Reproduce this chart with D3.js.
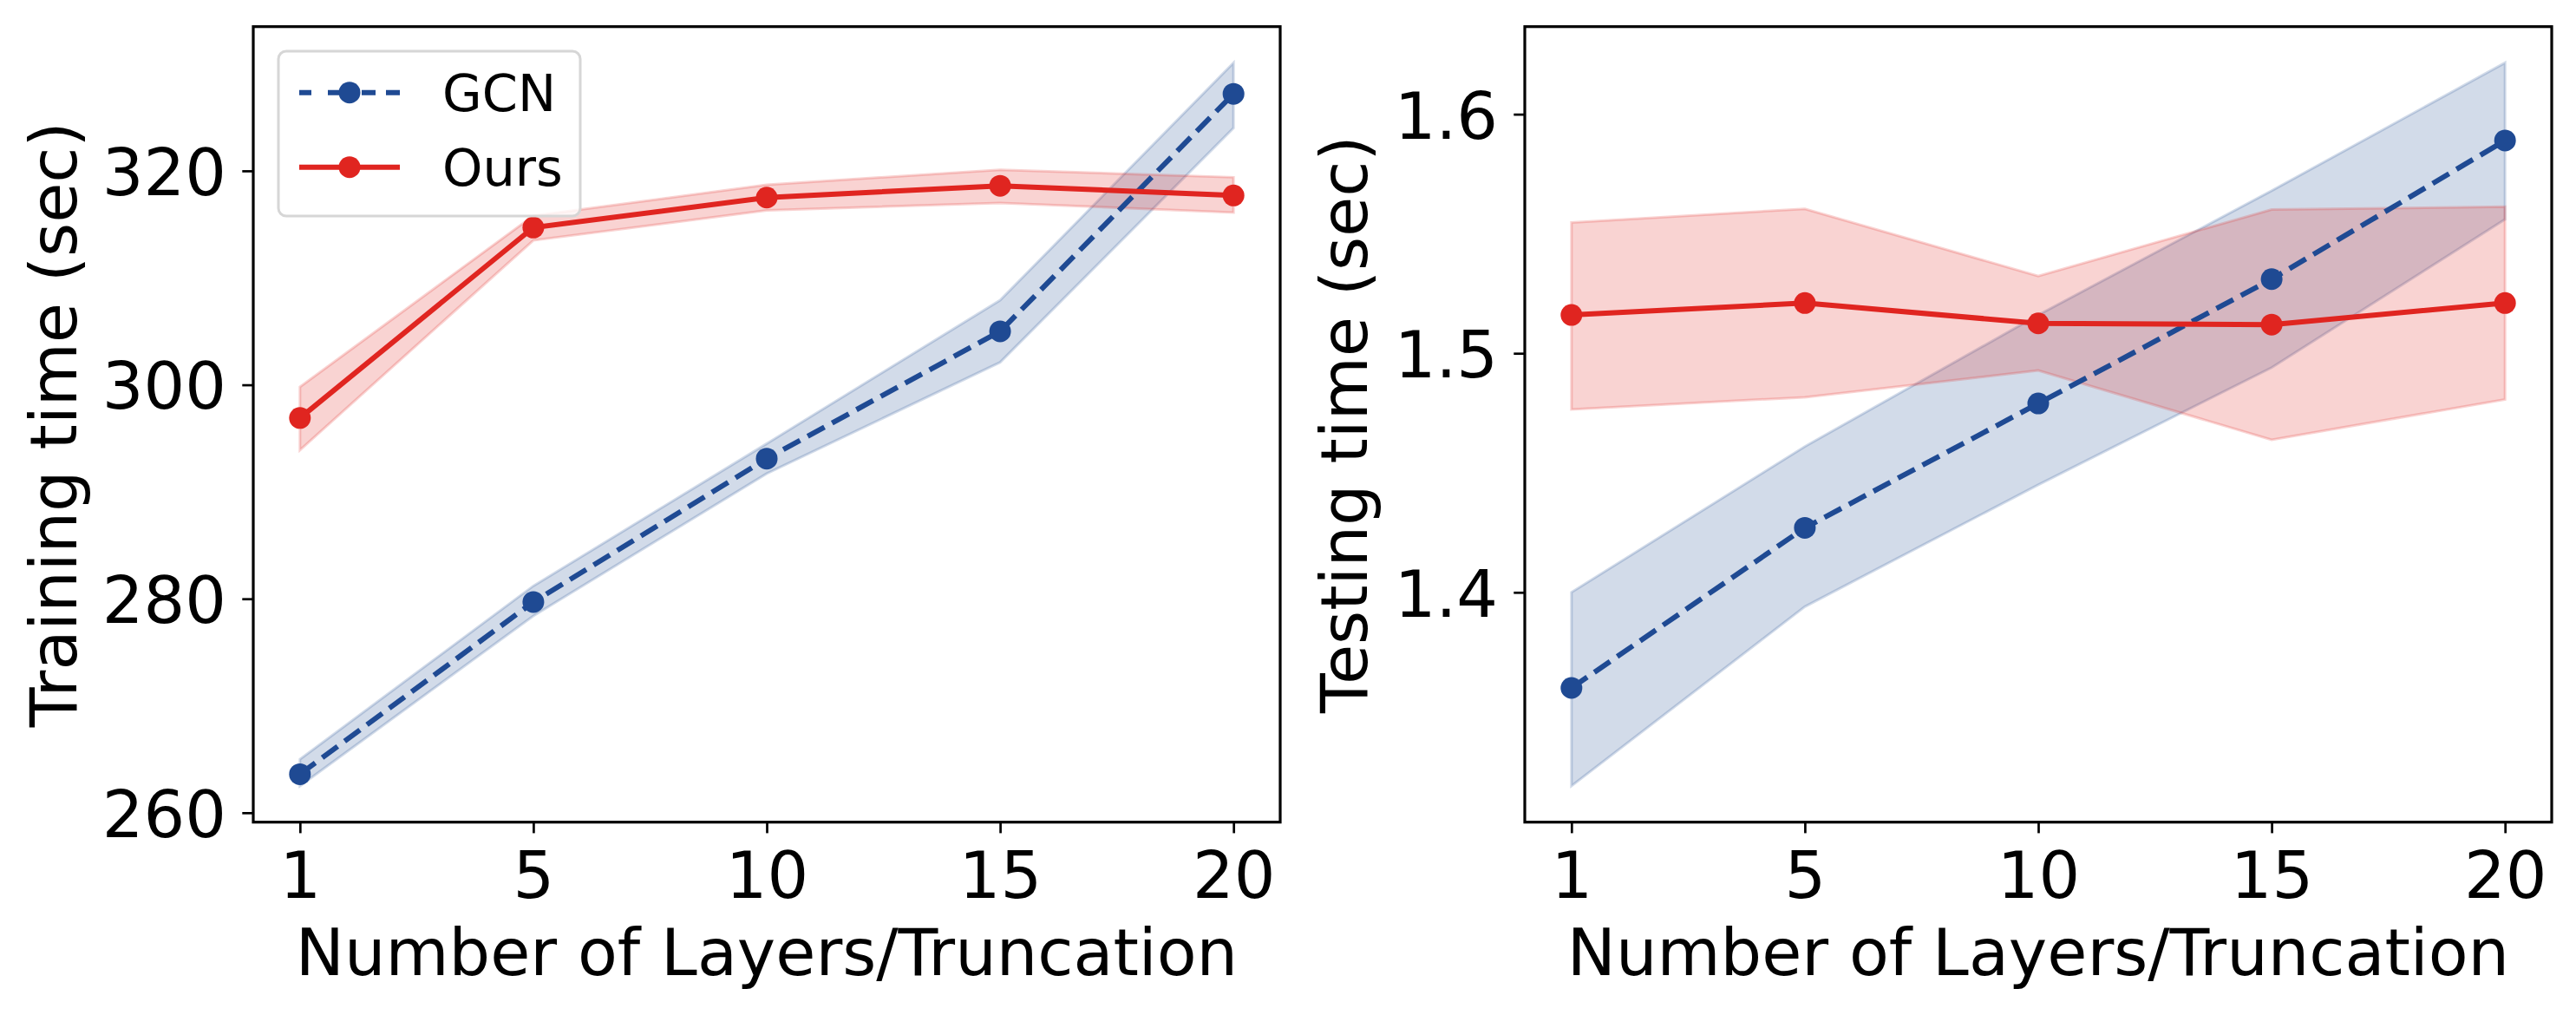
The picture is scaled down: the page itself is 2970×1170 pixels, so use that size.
<!DOCTYPE html>
<html>
<head>
<meta charset="utf-8">
<script src="https://cdn.jsdelivr.net/npm/d3@7"></script>
<style>
  html, body { margin: 0; padding: 0; background: #fff; }
  svg { display: block; }
  text { font-family: "DejaVu Sans", sans-serif; fill: #000; }
</style>
</head>
<body>
<svg id="chart" width="2970" height="1170"></svg>
<script>
// ---------- data ----------
const layers = ["1", "5", "10", "15", "20"];

const trainGCN      = [263.6, 279.7, 293.1, 305.0, 327.2];
const trainGCNLow   = [262.5, 278.4, 291.7, 302.1, 324.0];
const trainGCNHigh  = [265.0, 281.2, 294.5, 307.9, 330.1];
const trainOurs     = [296.9, 314.7, 317.5, 318.6, 317.7];
const trainOursLow  = [293.9, 313.5, 316.3, 317.0, 316.1];
const trainOursHigh = [299.8, 315.8, 318.7, 320.1, 319.4];

const testGCN       = [1.360, 1.427, 1.479, 1.531, 1.589];
const testGCNLow    = [1.319, 1.394, 1.445, 1.494, 1.556];
const testGCNHigh   = [1.400, 1.461, 1.516, 1.568, 1.6215];
const testOurs      = [1.516, 1.521, 1.5125, 1.512, 1.521];
const testOursLow   = [1.4765, 1.4816, 1.4928, 1.4638, 1.4807];
const testOursHigh  = [1.5547, 1.5604, 1.5323, 1.5601, 1.5613];

const trainTicks = [260, 280, 300, 320];
const testTicks = [1.4, 1.5, 1.6];
const testTickLabels = ["1.4", "1.5", "1.6"];

const seriesNames = ["GCN", "Ours"];
const xLabel = "Number of Layers/Truncation";

// ---------- style ----------
const BLUE = "#1f4a93";
const RED = "#e02520";
const FS = 75;

const svg = d3.select("#chart");
svg.append("rect").attr("width", 2970).attr("height", 1170).attr("fill", "#fff");

function panel(opts) {
  const { left, right, top, bottom, yTicks, yTickFmt, yLabel, yLabelX, series } = opts;
  const g = svg.append("g");

  // y domain with matplotlib-style 5% margins
  let lo = Infinity, hi = -Infinity;
  series.forEach(s => { lo = Math.min(lo, d3.min(s.low)); hi = Math.max(hi, d3.max(s.high)); });
  const pad = (hi - lo) * 0.05;
  const x = d3.scalePoint().domain(layers).range([left, right]).padding(0.2);
  const y = d3.scaleLinear().domain([lo - pad, hi + pad]).range([bottom, top]);

  // fills
  series.forEach(s => {
    const area = d3.area()
      .x((d, i) => x(layers[i]))
      .y0((d, i) => y(s.low[i]))
      .y1((d, i) => y(s.high[i]));
    g.append("path")
      .attr("d", area(s.mean))
      .attr("fill", s.color).attr("fill-opacity", 0.2)
      .attr("stroke", s.color).attr("stroke-opacity", 0.2).attr("stroke-width", 3)
      .attr("stroke-linejoin", "miter");
  });

  // lines + markers
  series.forEach(s => {
    const line = d3.line().x((d, i) => x(layers[i])).y(d => y(d));
    g.append("path")
      .attr("d", line(s.mean))
      .attr("fill", "none").attr("stroke", s.color).attr("stroke-width", 6)
      .attr("stroke-dasharray", s.dash || null);
    g.selectAll(null).data(s.mean).enter().append("circle")
      .attr("cx", (d, i) => x(layers[i])).attr("cy", d => y(d))
      .attr("r", 12.5).attr("fill", s.color);
  });

  // axes
  const xAxis = d3.axisBottom(x).tickSize(12.7).tickPadding(0);
  const gx = g.append("g").attr("transform", `translate(0,${bottom})`).call(xAxis);
  gx.select(".domain").remove();
  gx.selectAll(".tick line").attr("stroke", "#000").attr("stroke-width", 2.7);
  gx.selectAll(".tick text").attr("font-size", FS).attr("y", 87).attr("dy", null)
    .attr("font-family", "DejaVu Sans");

  const yAxis = d3.axisLeft(y).tickValues(yTicks).tickFormat(yTickFmt).tickSize(12.7).tickPadding(0);
  const gy = g.append("g").attr("transform", `translate(${left},0)`).call(yAxis);
  gy.select(".domain").remove();
  gy.selectAll(".tick line").attr("stroke", "#000").attr("stroke-width", 2.7);
  gy.selectAll(".tick text").attr("font-size", FS).attr("x", -31).attr("dy", "0.365em")
    .attr("font-family", "DejaVu Sans");

  // frame
  g.append("rect").attr("x", left).attr("y", top)
    .attr("width", right - left).attr("height", bottom - top)
    .attr("fill", "none").attr("stroke", "#000").attr("stroke-width", 3.2);

  // labels
  g.append("text").attr("x", (left + right) / 2).attr("y", bottom + 176)
    .attr("text-anchor", "middle").attr("font-size", FS).text(xLabel);
  g.append("text")
    .attr("transform", `translate(${yLabelX},${(top + bottom) / 2}) rotate(-90)`)
    .attr("text-anchor", "middle").attr("font-size", FS).text(yLabel);

  return { g, x, y };
}

panel({
  left: 292, right: 1476, top: 30.7, bottom: 947.7,
  yTicks: trainTicks, yTickFmt: d3.format("d"),
  yLabel: "Training time (sec)", yLabelX: 88,
  series: [
    { mean: trainGCN, low: trainGCNLow, high: trainGCNHigh, color: BLUE, dash: "22,10" },
    { mean: trainOurs, low: trainOursLow, high: trainOursHigh, color: RED }
  ]
});

panel({
  left: 1758, right: 2942, top: 30.7, bottom: 947.7,
  yTicks: testTicks, yTickFmt: (d, i) => testTickLabels[i],
  yLabel: "Testing time (sec)", yLabelX: 1576,
  series: [
    { mean: testGCN, low: testGCNLow, high: testGCNHigh, color: BLUE, dash: "22,10" },
    { mean: testOurs, low: testOursLow, high: testOursHigh, color: RED }
  ]
});

// ---------- legend ----------
const leg = svg.append("g");
leg.append("rect").attr("x", 321).attr("y", 59).attr("width", 348).attr("height", 190)
  .attr("rx", 9).attr("ry", 9)
  .attr("fill", "#fff").attr("fill-opacity", 0.8)
  .attr("stroke", "#d6d6d6").attr("stroke-width", 3);
const legItems = [
  { name: seriesNames[0], color: BLUE, dash: "14,19,14,25,16,12,16", y: 106.7 },
  { name: seriesNames[1], color: RED, dash: null, y: 192.7 }
];
legItems.forEach(it => {
  leg.append("line").attr("x1", 345).attr("x2", 461).attr("y1", it.y).attr("y2", it.y)
    .attr("stroke", it.color).attr("stroke-width", 6)
    .attr("stroke-dasharray", it.dash);
  leg.append("circle").attr("cx", 403).attr("cy", it.y).attr("r", 12.5).attr("fill", it.color);
  leg.append("text").attr("x", 510).attr("y", it.y + 21).attr("font-size", 59).text(it.name);
});
</script>
</body>
</html>
